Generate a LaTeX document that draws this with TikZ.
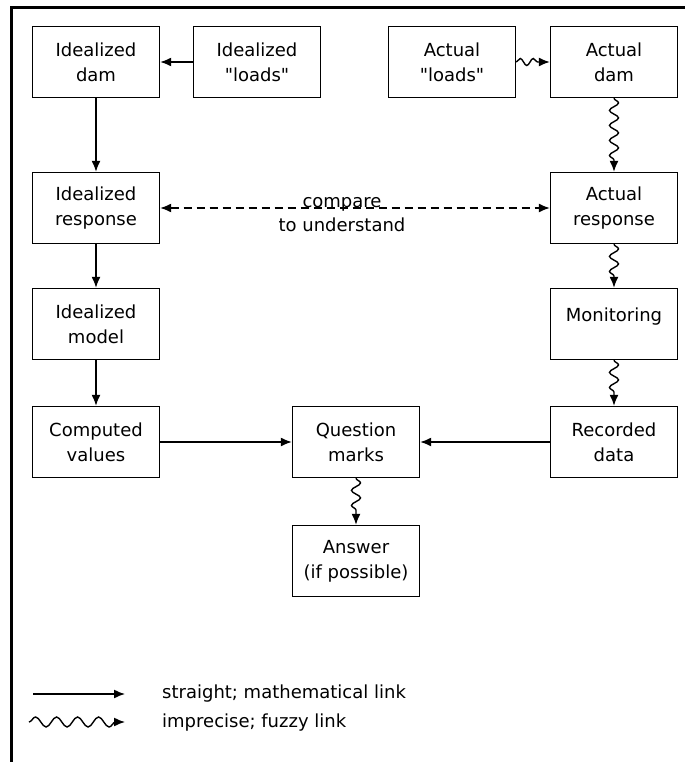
\documentclass[tikz,border=0pt]{standalone}
\usepackage{fontspec}
\setmainfont{DejaVu Sans}[Ligatures=TeXOff]
\usetikzlibrary{arrows.meta,decorations.pathmorphing}

\begin{document}
\begin{tikzpicture}[x=1pt,y=-1pt,
	box/.style={draw,line width=1.4pt,minimum width=127pt,minimum height=71pt,align=center,inner sep=0pt,font=\fontsize{18}{25}\selectfont},
	lbl/.style={inner sep=0pt,font=\fontsize{18}{25}\selectfont},
	link/.style={line width=1.4pt,-{Latex[length=11pt,width=9pt]}},
	fuzzy/.style={link,decorate,decoration={snake,amplitude=4.5pt,segment length=15pt,post length=10pt}},
	compare/.style={line width=1.4pt,dash pattern=on 8pt off 5pt,{Latex[length=11pt,width=9pt]}-{Latex[length=11pt,width=9pt]}}]
				\useasboundingbox (0,0) rectangle (685,762);
				\draw[line width=3pt] (11.5,762) -- (11.5,8) -- (685,8);
				\node[box] (idam) at (96,62) {Idealized\\dam};
				\node[box] (iload) at (257,62) {Idealized\\"loads"};
				\node[box] (aload) at (452,62) {Actual\\"loads"};
				\node[box] (adam) at (614,62) {Actual\\dam};
				\node[box] (iresp) at (96,208) {Idealized\\response};
				\node[box] (aresp) at (614,208) {Actual\\response};
				\node[box] (imod) at (96,324) {Idealized\\model};
				\node[box] (mon) at (614,324) {Monitoring\\[-6pt]};
				\node[box] (comp) at (96,442) {Computed\\values};
				\node[box] (quest) at (356,442) {Question\\marks};
				\node[box] (rec) at (614,442) {Recorded\\data};
				\node[box] (ans) at (356,561) {Answer\\(if possible)};
				\node[lbl,anchor=base] (cmp) at (342,207) {compare};
				\node[lbl,anchor=base] (und) at (342,231) {to understand};
				\draw[link] (iload) -- (idam);
				\draw[fuzzy,decoration={amplitude=3.5pt,segment length=13pt}] (aload) -- (adam);
				\draw[link] (idam) -- (iresp);
				\draw[fuzzy] (adam) -- (aresp);
				\draw[compare] (iresp.east) -- (aresp.west);
				\draw[link] (iresp) -- (imod);
				\draw[link] (imod) -- (comp);
				\draw[fuzzy] (aresp) -- (mon);
				\draw[fuzzy] (mon) -- (rec);
				\draw[link] (comp) -- (quest);
				\draw[link] (rec) -- (quest);
				\draw[fuzzy] (quest) -- (ans);
				\coordinate (s1) at (33,694);
				\coordinate (s2) at (125,694);
				\coordinate (f1) at (29,722);
				\coordinate (f2) at (125,722);
				\draw[link] (s1) -- (s2);
				\draw[fuzzy,decoration={segment length=21pt,amplitude=5pt,post length=7pt}] (f1) -- (f2);
				\node[lbl,anchor=base west] (slbl) at (162,698) {straight; mathematical link};
				\node[lbl,anchor=base west] (flbl) at (162,727) {imprecise; fuzzy link};
			\end{tikzpicture}
\end{document}
